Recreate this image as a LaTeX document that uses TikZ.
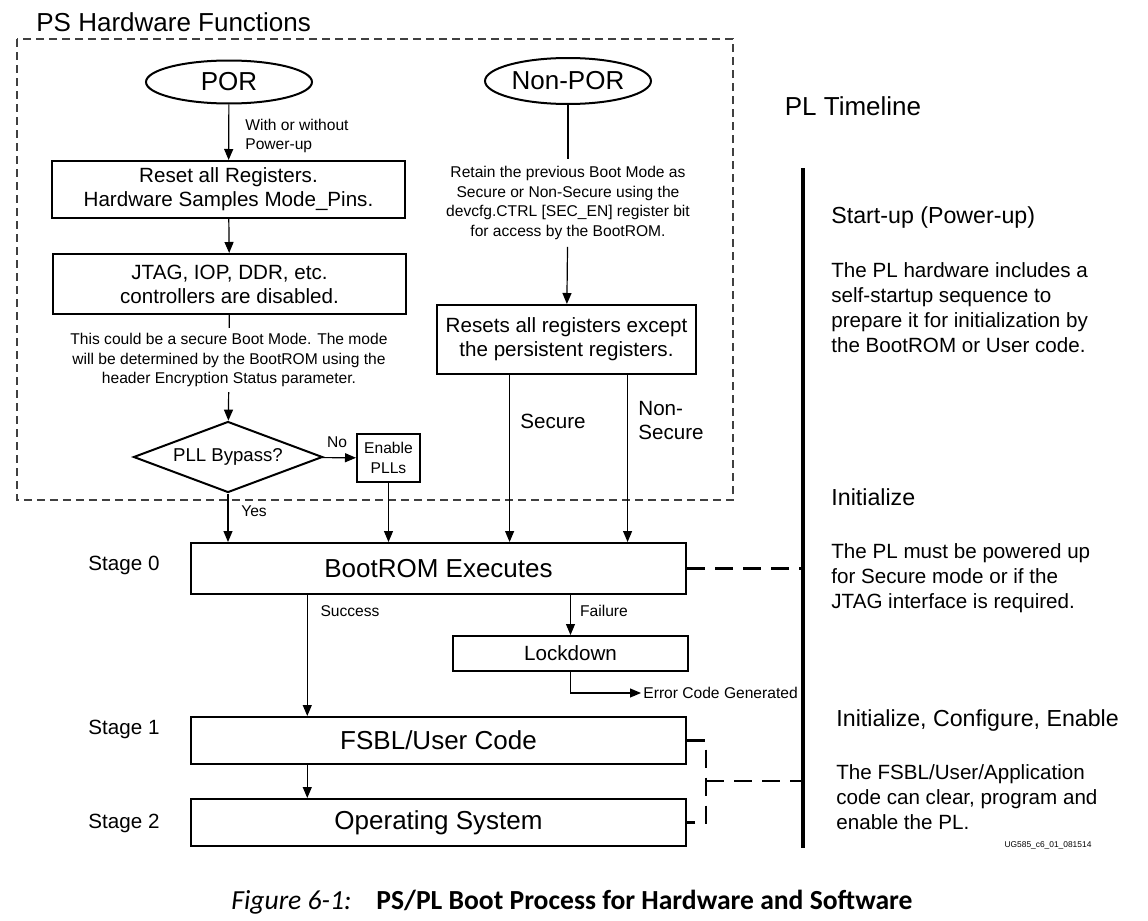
\documentclass[tikz,border=0pt]{standalone}
\usepackage{fontspec}
\setmainfont{Liberation Sans}
\newfontfamily\calibri{Carlito}
\usetikzlibrary{arrows.meta,positioning,shapes.geometric,calc}
\newcommand\fbig{\fontsize{13}{15.6}\selectfont}
\newcommand\fmed{\fontsize{10.3}{12}\selectfont}
\newcommand\fsmall{\fontsize{7.8}{9.7}\selectfont}
\newcommand\fplhead{\fontsize{11.6}{14}\selectfont}
\newcommand\fpl{\fontsize{10.3}{12.5}\selectfont}

\begin{document}
\begin{tikzpicture}[x=0.5pt,y=-0.5pt,
  >={Triangle[length=5.5pt,width=4.5pt]},
  box/.style={draw,line width=1pt,rectangle,inner sep=0pt,align=center,font=\fmed},
  oval/.style={draw,line width=1pt,ellipse,inner sep=0pt,minimum width=83pt,font=\fbig},
  note/.style={align=center,font=\fsmall,inner sep=2.5pt},
  lbl/.style={font=\fsmall,inner sep=0pt},
  flow/.style={->,line width=0.6pt},
  frame/.style={draw=black!75,line width=0.6pt,dash pattern=on 4pt off 2.5pt},
  pldash/.style={line width=1.2pt,dash pattern=on 9pt off 5pt},
  pltext/.style={anchor=west,align=left,font=\fpl,inner sep=0pt}]
		\useasboundingbox (0,0) rectangle (1148,921);
		\draw[frame] (17,39) rectangle (733,500);
		\node[font=\fbig,anchor=west,inner sep=0pt] (pstitle) at (36,22) {PS Hardware Functions};

		\node[oval,minimum height=21.5pt] (por) at (229,82) {POR};
		\node[oval,minimum height=23pt] (nonpor) at (568,81) {Non-POR};
		\node[box,minimum width=176.5pt,minimum height=28.5pt] (reset) at (228.5,189.5) {Reset all Registers.\\Hardware Samples Mode\_Pins.};
		\node[box,minimum width=176.5pt,minimum height=30pt] (jtag) at (229.5,284) {JTAG, IOP, DDR, etc.\\controllers are disabled.};
		\node[note] (secnote) at (229,360) {This could be a secure Boot Mode. The mode\\will be determined by the BootROM using the\\header Encryption Status parameter.};
		\node[draw,line width=1pt,diamond,aspect=2.66,inner sep=0pt,minimum width=94.5pt,minimum height=35.5pt,font=\fontsize{9.3}{11}\selectfont] (pll) at (228,457) {PLL Bypass?};
		\node[box,font=\fsmall,minimum width=31.5pt,minimum height=24pt] (enpll) at (388.5,458) {Enable\\PLLs};
		\node[note,inner sep=3.5pt] (retain) at (568,203) {Retain the previous Boot Mode as\\Secure or Non-Secure using the\\devcfg.CTRL [SEC\_EN] register bit\\for access by the BootROM.};
		\node[box,minimum width=129.5pt,minimum height=34.5pt] (resets) at (566.5,339.5) {Resets all registers except\\the persistent registers.};

		\node[box,font=\fbig,minimum width=247.5pt,minimum height=25.5pt] (bootrom) at (438.5,568.5) {BootROM Executes};
		\node[box,minimum width=117.5pt,minimum height=17.5pt] (lock) at (570.5,653.5) {Lockdown};
		\node[box,font=\fbig,minimum width=247.5pt,minimum height=23.5pt] (fsbl) at (438.5,740.5) {FSBL/User Code};
		\node[box,font=\fbig,minimum width=247.5pt,minimum height=23.5pt] (os) at (438.5,822.5) {Operating System};
		\foreach \n/\y in {0/565,1/729,2/823}
			\node[font=\fmed] (stage\n) at (124,\y) {Stage \n};

		\node[lbl,anchor=west,align=left] (powerlbl) at (245,136) {With or without\\Power-up};
		\node[lbl] (nolbl) at (337,442) {No};
		\node[lbl] (yeslbl) at (254,511) {Yes};
		\node[lbl,font=\fmed] (seclbl) at (553,421) {Secure};
		\node[lbl,font=\fmed,anchor=west,align=left] (nonseclbl) at (638,421) {Non-\\Secure};
		\node[lbl] (succlbl) at (350,611) {Success};
		\node[lbl] (faillbl) at (604,611) {Failure};
		\node[lbl,anchor=west,inner sep=1pt] (err) at (641,693) {Error Code Generated};

		\coordinate (sec) at ($(resets.south west)!0.282!(resets.south east)$);
		\coordinate (nsec) at ($(resets.south west)!0.734!(resets.south east)$);
		\coordinate (succ) at ($(bootrom.south west)!0.236!(bootrom.south east)$);
		\coordinate (tltop) at (803,168);
		\coordinate (tlbot) at (803,848);
		\coordinate (brk) at (706,781);

		\foreach \f/\t in {por/reset,reset/jtag,secnote/pll,retain/resets,pll/enpll}{
			\draw[flow] (\f) -- (\t);
		}
		\foreach \f/\t in {jtag/secnote,nonpor/retain}{
			\draw[line width=0.6pt] (\f) -- (\t);
		}
		\foreach \f in {pll.south,enpll.south,sec,nsec}{
			\draw[flow] (\f) -- (\f |- bootrom.north);
		}
		\draw[flow] (succ) -- (succ |- fsbl.north);
		\draw[flow] (succ |- fsbl.south) -- (succ |- os.north);
		\draw[flow] (bootrom.south -| lock.north) -- (lock.north);
		\draw[flow] (lock.south) |- (err.west);

		\draw[line width=1.6pt] (tltop) -- (tlbot);
		\draw[pldash] (bootrom.east) -- (bootrom.east -| tltop);
		\draw[pldash] (fsbl.east) -| (brk) |- (os.east);
		\draw[pldash] (brk) -- (brk -| tltop);

		\node[font=\fbig,inner sep=0pt] (pltitle) at (853,106) {PL Timeline};
		\node[pltext,font=\fplhead] (startup) at (831,218) {Start-up (Power-up)};
		\node[pltext] (startupdesc) at (831,307.5) {The PL hardware includes a\\self-startup sequence to\\prepare it for initialization by\\the BootROM or User code.};
		\node[pltext,font=\fplhead] (init) at (831,497) {Initialize};
		\node[pltext] (initdesc) at (831,578) {The PL must be powered up\\for Secure mode or if the\\JTAG interface is required.};
		\node[pltext,font=\fplhead] (config) at (836,720) {Initialize, Configure, Enable};
		\node[pltext] (configdesc) at (836,797) {The FSBL/User/Application\\code can clear, program and\\enable the PL.};
		\node[font=\fontsize{4.2}{5}\selectfont,inner sep=0pt] (figid) at (1048,845) {UG585\_c6\_01\_081514};

		\node[font=\calibri\itshape\fontsize{13.8}{16}\selectfont,anchor=base west,inner sep=0pt] (figno) at (231,909) {Figure 6-1:};
		\node[font=\calibri\bfseries\fontsize{13.8}{16}\selectfont,anchor=base west,inner sep=0pt] (figcap) at (376,909) {PS/PL Boot Process for Hardware and Software};
	\end{tikzpicture}
\end{document}
